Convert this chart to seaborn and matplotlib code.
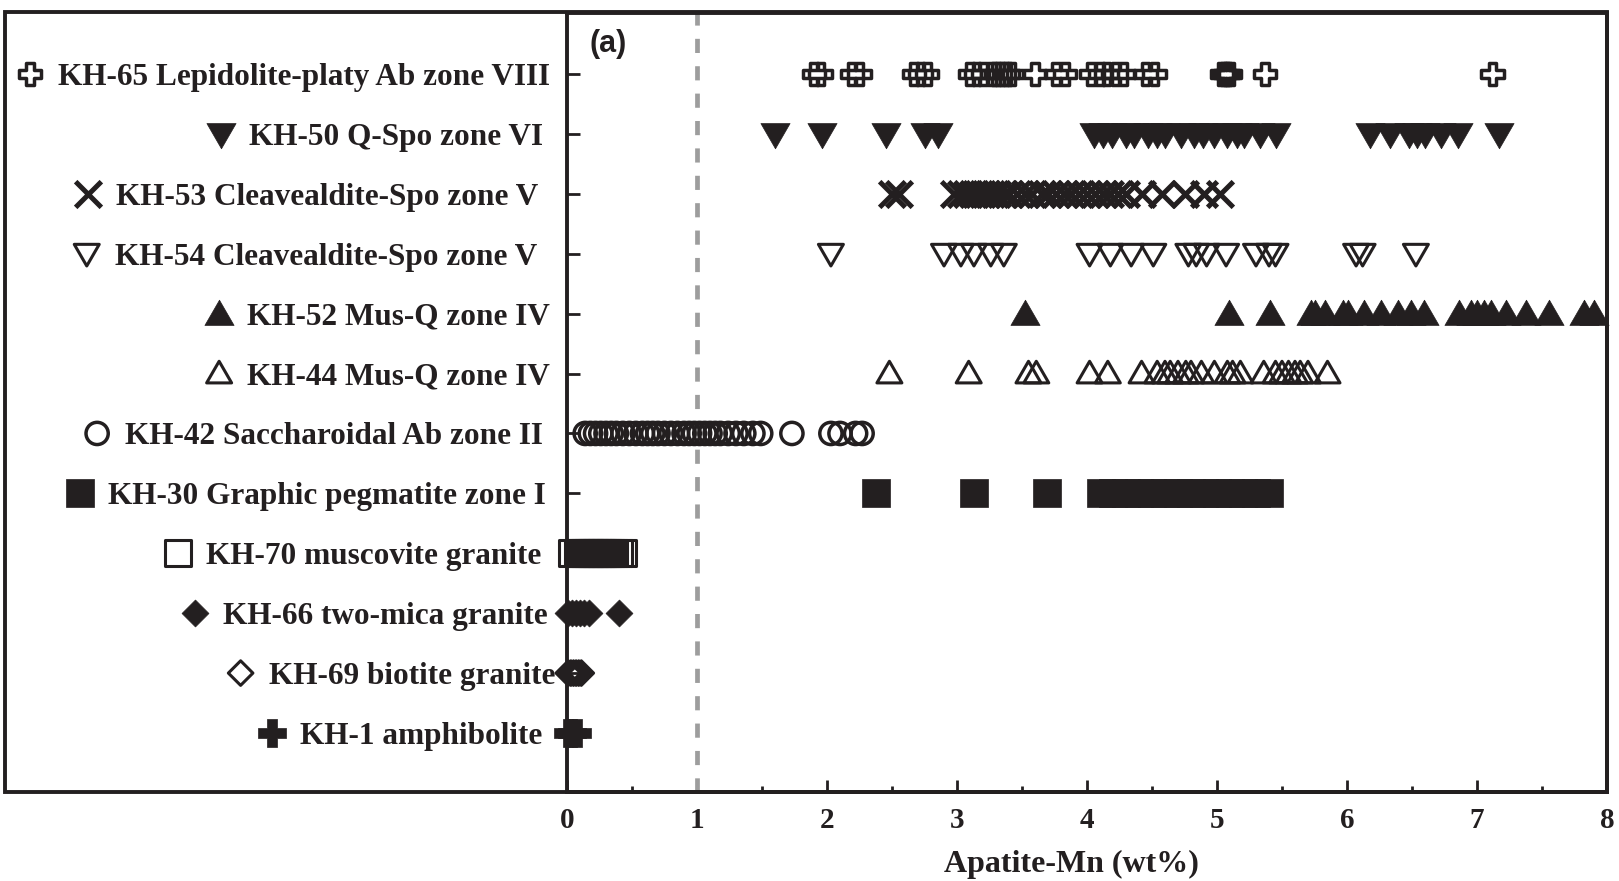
import matplotlib
matplotlib.use("Agg")
import matplotlib.pyplot as plt
from matplotlib.path import Path
from matplotlib.patches import Rectangle
import seaborn as sns
import pandas as pd

# sample labels, top row first
samples = [
    "KH-65 Lepidolite-platy Ab zone VIII",
    "KH-50 Q-Spo zone VI",
    "KH-53 Cleavealdite-Spo zone V",
    "KH-54 Cleavealdite-Spo zone V",
    "KH-52 Mus-Q zone IV",
    "KH-44 Mus-Q zone IV",
    "KH-42 Saccharoidal Ab zone II",
    "KH-30 Graphic pegmatite zone I",
    "KH-70 muscovite granite",
    "KH-66 two-mica granite",
    "KH-69 biotite granite",
    "KH-1 amphibolite",
]

# Apatite-Mn (wt%)
kh65 = [1.90, 1.95, 2.19, 2.25, 2.67, 2.72, 2.77, 3.10, 3.15, 3.20, 3.27, 3.30, 3.33,
        3.36, 3.39, 3.42, 3.60, 3.76, 3.83, 4.03, 4.10, 4.15, 4.22, 4.28, 4.45, 4.52,
        5.04, 5.06, 5.08, 5.10, 5.37, 7.12]
kh50 = [1.60, 1.96, 2.45, 2.75, 2.85, 4.05, 4.12, 4.19, 4.30, 4.36, 4.47, 4.54, 4.60,
        4.72, 4.82, 4.89, 4.98, 5.08, 5.15, 5.21, 5.33, 5.45, 6.18, 6.33, 6.48, 6.54,
        6.60, 6.72, 6.85, 7.17]
kh53 = [2.50, 2.55, 2.98, 3.03, 3.08, 3.12, 3.17, 3.22, 3.26, 3.31, 3.36, 3.40, 3.46,
        3.52, 3.58, 3.65, 3.70, 3.76, 3.82, 3.88, 3.94, 4.00, 4.06, 4.12, 4.18, 4.24,
        4.30, 4.42, 4.58, 4.75, 4.90, 5.02]
kh54 = [2.03, 2.90, 3.03, 3.13, 3.26, 3.36, 4.02, 4.18, 4.34, 4.51, 4.78, 4.84, 4.92,
        5.07, 5.30, 5.40, 5.45, 6.07, 6.12, 6.53]
kh52 = [3.52, 5.09, 5.41, 5.72, 5.75, 5.83, 5.97, 6.01, 6.13, 6.26, 6.39, 6.49, 6.59,
        6.86, 6.95, 7.00, 7.05, 7.11, 7.22, 7.38, 7.55, 7.82, 7.90]
kh44 = [2.48, 3.09, 3.55, 3.61, 4.02, 4.16, 4.42, 4.54, 4.60, 4.64, 4.70, 4.76, 4.80,
        4.88, 4.98, 5.08, 5.12, 5.18, 5.36, 5.45, 5.50, 5.55, 5.60, 5.64, 5.70, 5.85]
kh42 = [0.14, 0.18, 0.22, 0.26, 0.30, 0.34, 0.38, 0.43, 0.48, 0.53, 0.58, 0.62, 0.66,
        0.70, 0.75, 0.80, 0.85, 0.90, 0.94, 0.98, 1.02, 1.06, 1.10, 1.14, 1.18, 1.24,
        1.30, 1.36, 1.43, 1.49, 1.73, 2.03, 2.10, 2.22, 2.27]
kh30 = [2.38, 3.13, 3.69, 4.11, 4.20, 4.30, 4.40, 4.50, 4.60, 4.70, 4.80, 4.90, 5.00,
        5.10, 5.20, 5.30, 5.40]
kh70 = [0.04, 0.08, 0.10, 0.12, 0.14, 0.16, 0.18, 0.20, 0.22, 0.24, 0.26, 0.28, 0.30,
        0.32, 0.34, 0.36, 0.40, 0.43]
kh66 = [0.01, 0.04, 0.07, 0.10, 0.13, 0.17, 0.40]
kh69 = [0.01, 0.03, 0.05, 0.07, 0.09, 0.11]
kh1 = [0.01, 0.04, 0.08]

values = [kh65, kh50, kh53, kh54, kh52, kh44, kh42, kh30, kh70, kh66, kh69, kh1]

INK = "#231f20"

# slightly flattened triangles like the original
down_tri = Path([(-1, 0.75), (1, 0.75), (0, -0.98), (0, 0)], closed=True)
up_tri = Path([(-1, -0.75), (1, -0.75), (0, 0.98), (0, 0)], closed=True)

# marker, size (pt), face, edge width
styles = [
    ("P", 16, "none", 2.5),
    (down_tri, 21, INK, 0.5),
    ("x", 18.5, None, 3.6),
    (down_tri, 18, "none", 2.2),
    (up_tri, 21, INK, 0.5),
    (up_tri, 18, "none", 2.2),
    ("o", 16, "none", 2.5),
    ("s", 20, INK, 0.5),
    ("s", 18.5, "none", 2.2),
    ("D", 13.7, INK, 0.5),
    ("D", 12.5, "none", 2.2),
    ("P", 19.5, INK, 0.5),
]

# right end of each label (px) in the original
label_right = [550, 543, 538, 537, 550, 550, 543, 546, 541, 548, 555, 542]

sns.set_style("ticks")
plt.rcParams["font.family"] = ["Liberation Serif", "DejaVu Serif"]
plt.rcParams["font.weight"] = "bold"

W, H = 1619, 881
fig = plt.figure(figsize=(W / 100, H / 100), dpi=100)
ax = fig.add_axes([567 / W, (H - 792) / H, 1040 / W, 779 / H])


def marker_kws(style):
    m, size, face, lw = style
    kw = dict(marker=m, s=size ** 2, linewidth=lw)
    if face is None:
        kw["color"] = INK
    else:
        kw["facecolor"] = face
        kw["edgecolor"] = INK
    return kw


ax.axvline(1, color="#9d9d9d", lw=3.4, dashes=(3.0, 2.8), zorder=1)

for i, (vals, st) in enumerate(zip(values, styles)):
    df = pd.DataFrame({"Mn": vals, "row": i})
    sns.scatterplot(data=df, x="Mn", y="row", ax=ax, clip_on=False, zorder=2.2,
                    **marker_kws(st))

ax.set_xlim(0, 8)
ax.set_ylim(11.985, -1.018)
ax.set_xticks(range(9))
ax.set_xticks([k + 0.5 for k in range(8)], minor=True)
ax.set_yticks(range(len(samples)))
ax.set_yticklabels(samples)
ax.set_xlabel("")
ax.set_ylabel("")

for s in ax.spines.values():
    s.set_linewidth(2.8)
    s.set_color(INK)

ax.tick_params(axis="both", which="both", direction="in", color=INK,
               labelcolor=INK, width=2)
ax.tick_params(axis="x", which="major", length=9, pad=11, labelsize=21)
ax.tick_params(axis="x", which="minor", length=4)
ax.tick_params(axis="y", length=9, labelsize=22.5)

for tick, r in zip(ax.yaxis.get_major_ticks(), label_right):
    tick.set_pad((567 - r) * 0.72)

ax.text(0.32, -0.5, "(a)", fontsize=22, fontweight="bold", color=INK,
        family=["Liberation Sans", "DejaVu Sans"], ha="center", va="center")

ax.set_xlabel("Apatite-Mn (wt%)", fontsize=23, fontweight="bold", color=INK)
ax.xaxis.set_label_coords((1071 - 567) / 1040, (792 - 864) / 779)
ax.xaxis.label.set_va("center")

# outer frame around labels and plot
fig.add_artist(Rectangle((5 / W, (H - 792) / H), 1602 / W, 780 / H,
                         transform=fig.transFigure, fill=False, lw=2.8, ec=INK))

# small marker keys in front of each label
fig.canvas.draw()
renderer = fig.canvas.get_renderer()
for i, (lab, st) in enumerate(zip(ax.get_yticklabels(), styles)):
    bb = lab.get_window_extent(renderer)
    yd = ax.transData.transform((0, i))[1]
    xa, ya = ax.transAxes.inverted().transform((bb.x0 - 28, yd))
    kw = marker_kws(st)
    ax.scatter([xa], [ya], transform=ax.transAxes, clip_on=False, zorder=3, **kw)

fig.savefig("out.png", dpi=100)
